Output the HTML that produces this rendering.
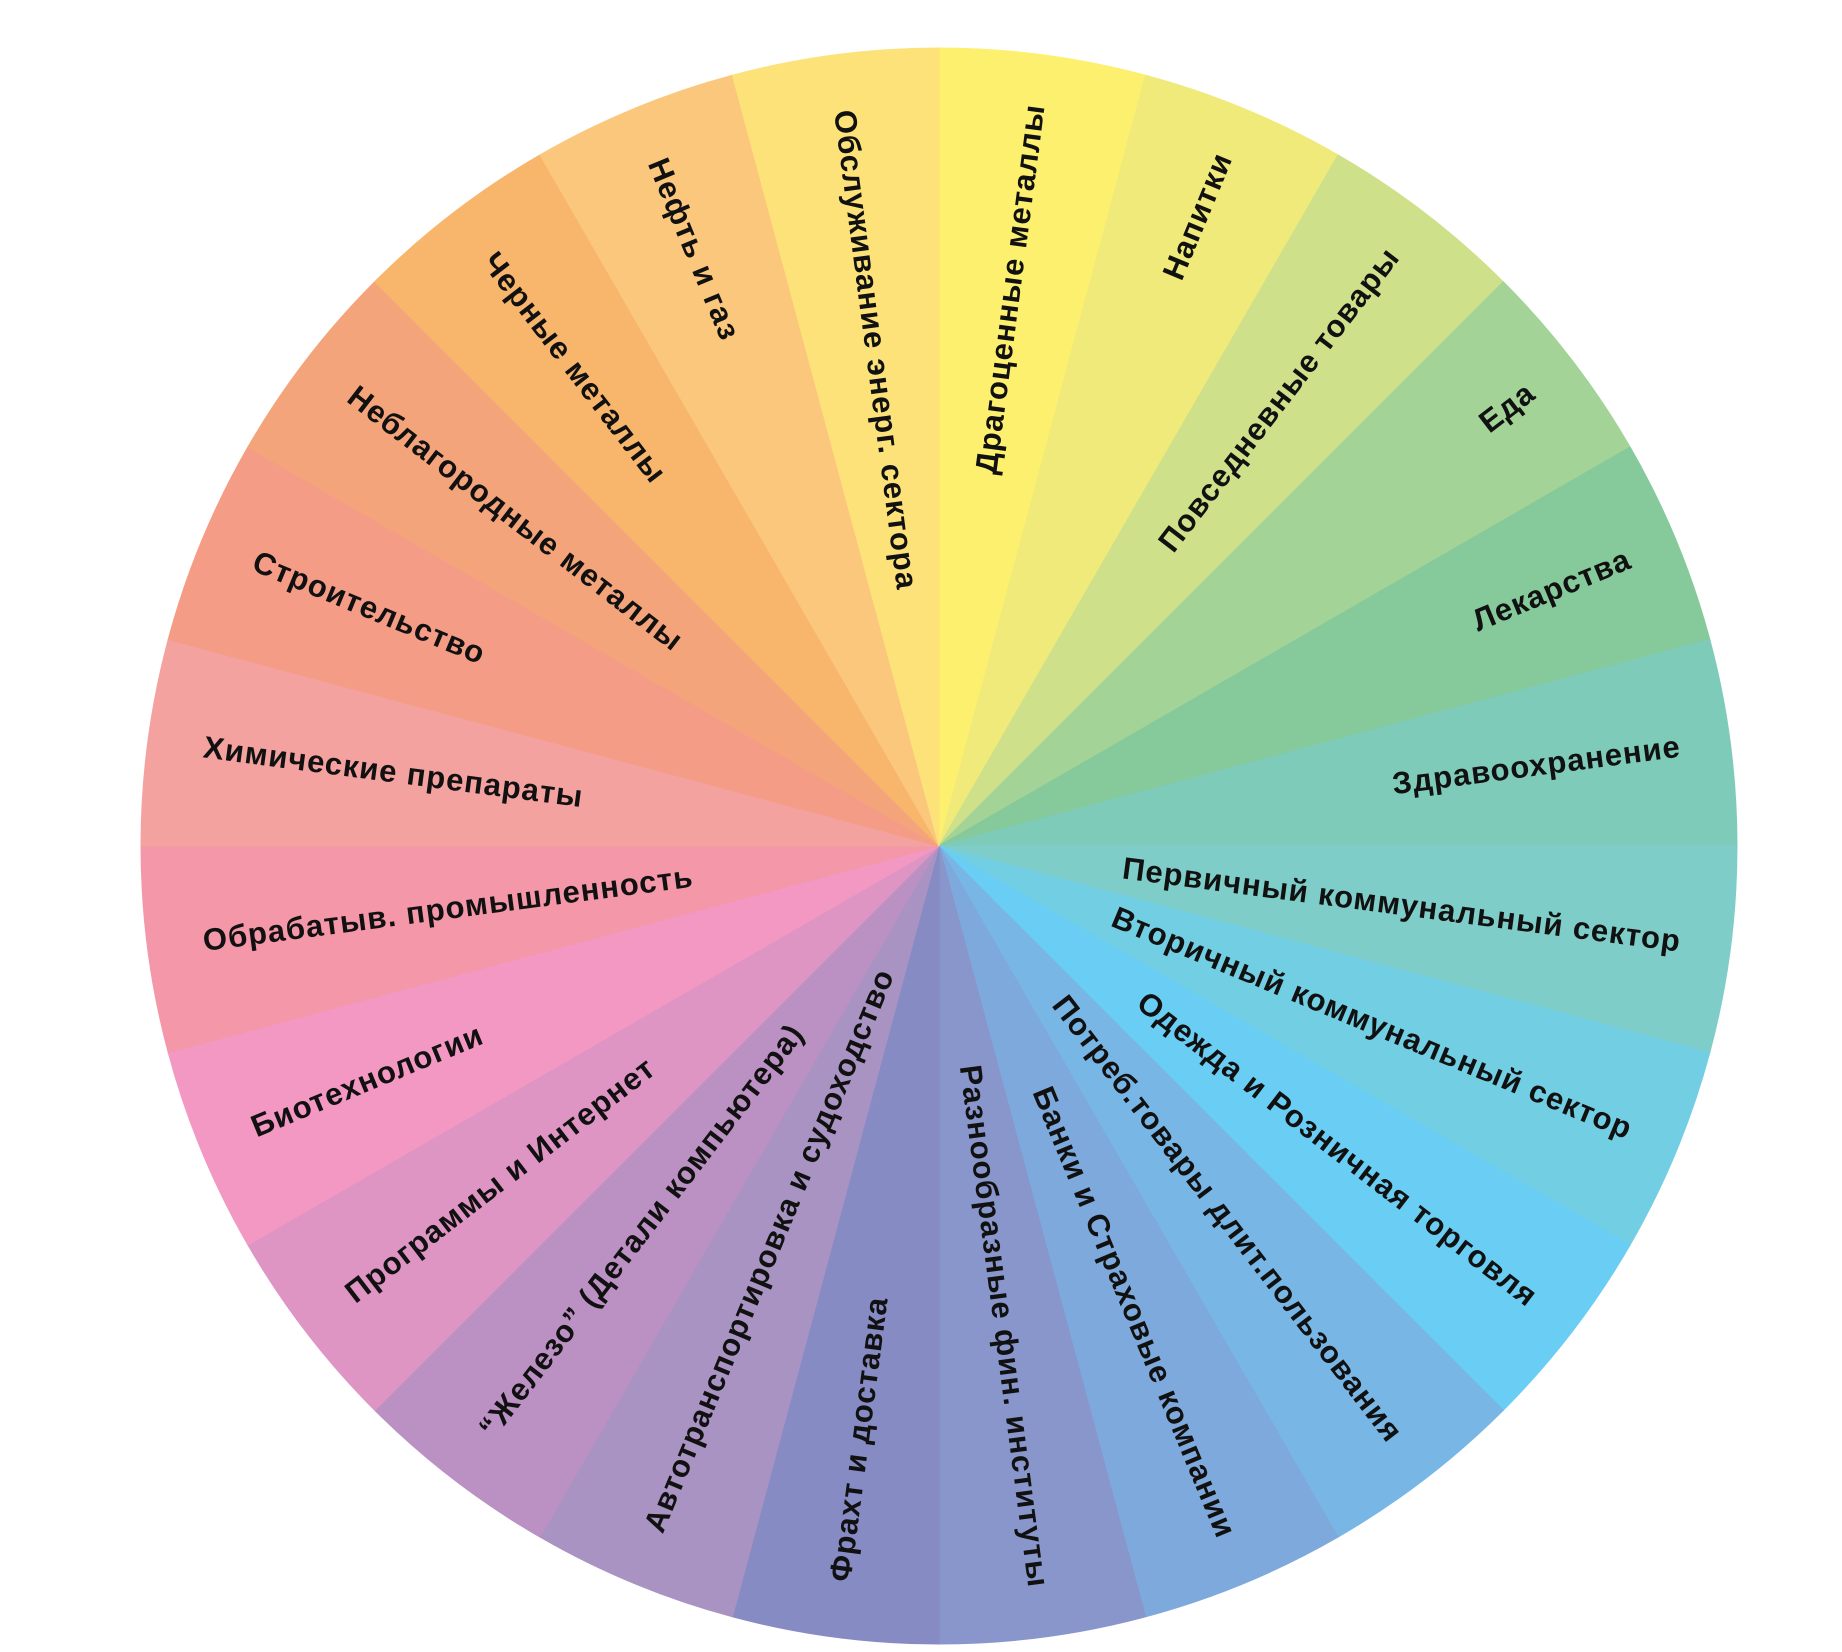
<!DOCTYPE html>
<html><head><meta charset="utf-8"><style>html,body{margin:0;padding:0;background:#fff}svg{display:block}text{font-family:"Liberation Sans","DejaVu Sans",sans-serif;font-weight:bold;font-size:31px;letter-spacing:1px;fill:#111;dominant-baseline:middle}</style></head>
<body>
<svg width="1842" height="1652" viewBox="0 0 1842 1652" xmlns="http://www.w3.org/2000/svg">
<defs><path id="w" d="M0,0 L0,-798 A798,798 0 0 1 206.5,-770.8 Z"/></defs>
<g transform="translate(939,846)">
<use href="#w" transform="rotate(0)" fill="#fdf06f" stroke="#fdf06f"/>
<use href="#w" transform="rotate(15)" fill="#f0ea7a" stroke="#f0ea7a"/>
<use href="#w" transform="rotate(30)" fill="#cfe08a" stroke="#cfe08a"/>
<use href="#w" transform="rotate(45)" fill="#a3d396" stroke="#a3d396"/>
<use href="#w" transform="rotate(60)" fill="#86c99b" stroke="#86c99b"/>
<use href="#w" transform="rotate(75)" fill="#7ecbb9" stroke="#7ecbb9"/>
<use href="#w" transform="rotate(90)" fill="#7ecdc8" stroke="#7ecdc8"/>
<use href="#w" transform="rotate(105)" fill="#72cee3" stroke="#72cee3"/>
<use href="#w" transform="rotate(120)" fill="#6acdf3" stroke="#6acdf3"/>
<use href="#w" transform="rotate(135)" fill="#78b6e6" stroke="#78b6e6"/>
<use href="#w" transform="rotate(150)" fill="#7ea9dc" stroke="#7ea9dc"/>
<use href="#w" transform="rotate(165)" fill="#8896cc" stroke="#8896cc"/>
<use href="#w" transform="rotate(180)" fill="#878bc4" stroke="#878bc4"/>
<use href="#w" transform="rotate(195)" fill="#a893c3" stroke="#a893c3"/>
<use href="#w" transform="rotate(210)" fill="#bb90c3" stroke="#bb90c3"/>
<use href="#w" transform="rotate(225)" fill="#df95c4" stroke="#df95c4"/>
<use href="#w" transform="rotate(240)" fill="#f298c2" stroke="#f298c2"/>
<use href="#w" transform="rotate(255)" fill="#f497a9" stroke="#f497a9"/>
<use href="#w" transform="rotate(270)" fill="#f3a2a0" stroke="#f3a2a0"/>
<use href="#w" transform="rotate(285)" fill="#f49c86" stroke="#f49c86"/>
<use href="#w" transform="rotate(300)" fill="#f4a47a" stroke="#f4a47a"/>
<use href="#w" transform="rotate(315)" fill="#f8b56c" stroke="#f8b56c"/>
<use href="#w" transform="rotate(330)" fill="#fbc77c" stroke="#fbc77c"/>
<use href="#w" transform="rotate(345)" fill="#fde27a" stroke="#fde27a"/>

<text transform="rotate(-82.5)" x="748" text-anchor="end">Драгоценные металлы</text>
<text transform="rotate(-67.5)" x="748" text-anchor="end">Напитки</text>
<text transform="rotate(-52.5)" x="748" text-anchor="end">Повседневные товары</text>
<text transform="rotate(-37.5)" x="748" text-anchor="end">Еда</text>
<text transform="rotate(-22.5)" x="748" text-anchor="end">Лекарства</text>
<text transform="rotate(-7.5)" x="748" text-anchor="end">Здравоохранение</text>
<text transform="rotate(7.5)" x="748" text-anchor="end">Первичный коммунальный сектор</text>
<text transform="rotate(22.5)" x="748" text-anchor="end">Вторичный коммунальный сектор</text>
<text transform="rotate(37.5)" x="748" text-anchor="end">Одежда и Розничная торговля</text>
<text transform="rotate(52.5)" x="748" text-anchor="end">Потреб.товары длит.пользования</text>
<text transform="rotate(67.5)" x="748" text-anchor="end">Банки и Страховые компании</text>
<text transform="rotate(82.5)" x="748" text-anchor="end">Разнообразные фин. институты</text>

<text transform="rotate(277.5)" x="-742" text-anchor="start">Фрахт и доставка</text>
<text transform="rotate(292.5)" x="-742" text-anchor="start">Автотранспортировка и судоходство</text>
<text transform="rotate(307.5)" x="-742" text-anchor="start">“Железо” (Детали компьютера)</text>
<text transform="rotate(322.5)" x="-742" text-anchor="start">Программы и Интернет</text>
<text transform="rotate(337.5)" x="-742" text-anchor="start">Биотехнологии</text>
<text transform="rotate(352.5)" x="-742" text-anchor="start">Обрабатыв. промышленность</text>
<text transform="rotate(7.5)" x="-742" text-anchor="start">Химические препараты</text>
<text transform="rotate(22.5)" x="-742" text-anchor="start">Строительство</text>
<text transform="rotate(37.5)" x="-742" text-anchor="start">Неблагородные металлы</text>
<text transform="rotate(52.5)" x="-742" text-anchor="start">Черные металлы</text>
<text transform="rotate(67.5)" x="-742" text-anchor="start">Нефть и газ</text>
<text transform="rotate(82.5)" x="-742" text-anchor="start">Обслуживание энерг. сектора</text>
</g>
</svg>
</body></html>
